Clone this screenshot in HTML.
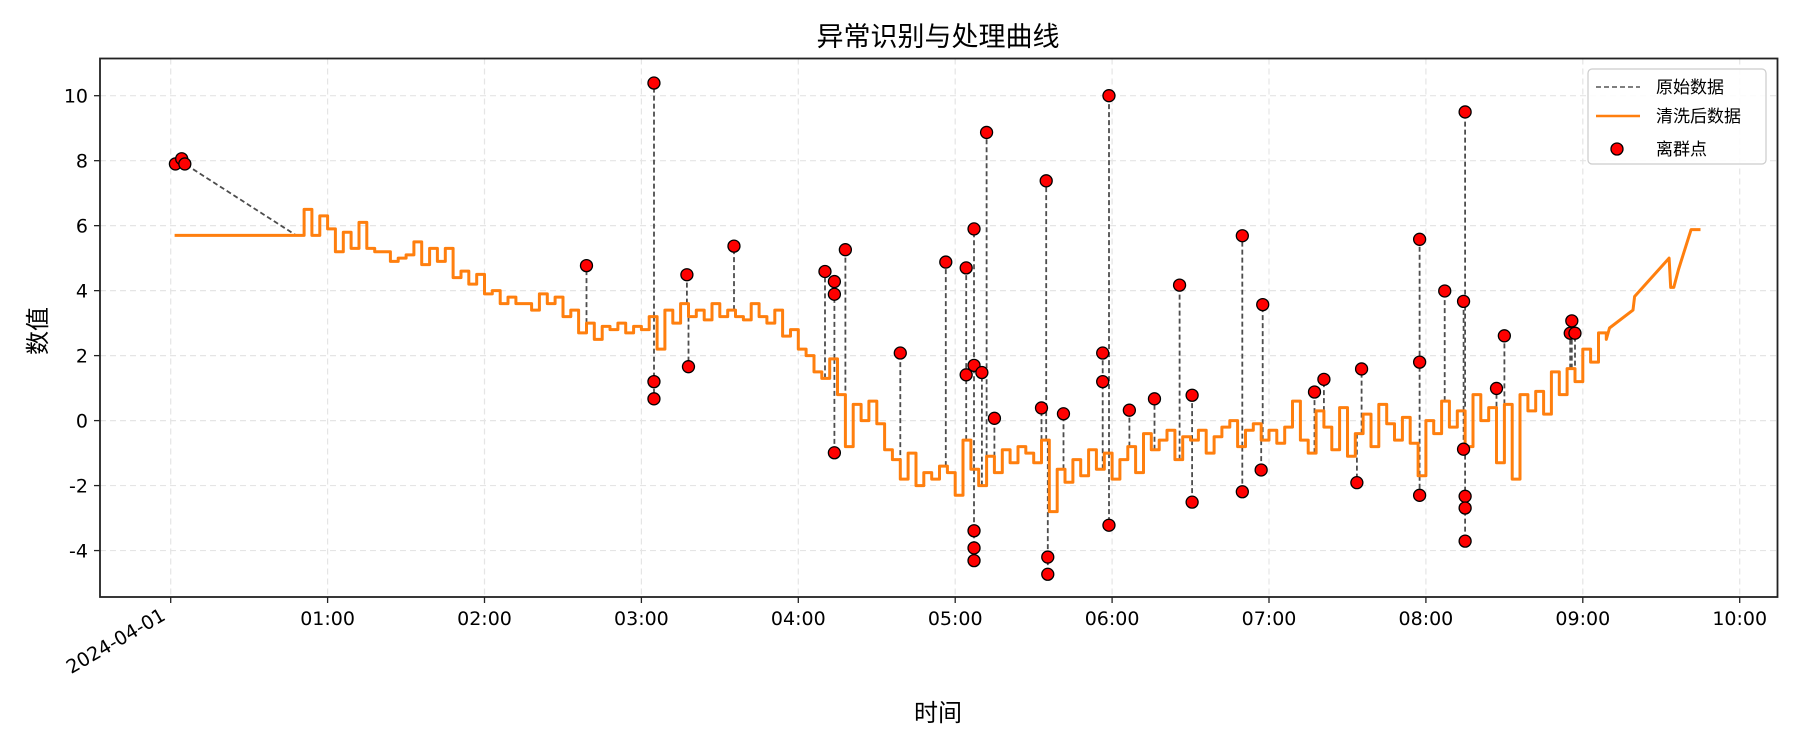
<!DOCTYPE html>
<html><head><meta charset="utf-8"><style>
body{margin:0;background:#fff}
svg{display:block}
text{font-family:"DejaVu Sans","Liberation Sans",sans-serif}
.cjk{font-family:"WenQuanYi Zen Hei","Noto Sans CJK SC",sans-serif}
</style></head><body>
<svg id="chart" width="1800" height="750" xmlns="http://www.w3.org/2000/svg">
<rect width="1800" height="750" fill="#fff"/>
<text class="cjk" x="938" y="46" font-size="27" text-anchor="middle">异常识别与处理曲线</text>
<text class="cjk" x="938" y="721" font-size="24" text-anchor="middle">时间</text>
<text class="cjk" transform="translate(46,331) rotate(-90)" font-size="24" text-anchor="middle">数值</text>
<g id="grid"></g>
<g id="plot"></g>
<rect x="100" y="58.5" width="1677.5" height="538.5" fill="none" stroke="#222" stroke-width="1.8"/>
<g id="ticks"></g>
<g>
<rect x="1588" y="69" width="178" height="95" rx="4" fill="#fff" fill-opacity="0.85" stroke="#ccc" stroke-width="1.2"/>
<line x1="1596" y1="87" x2="1640" y2="87" stroke="#555" stroke-width="1.6" stroke-dasharray="5,3"/>
<text class="cjk" x="1656" y="93" font-size="17">原始数据</text>
<line x1="1596" y1="116" x2="1640" y2="116" stroke="#ff7f0e" stroke-width="2.5"/>
<text class="cjk" x="1656" y="122" font-size="17">清洗后数据</text>
<circle cx="1617" cy="149" r="6" fill="#f00" stroke="#000" stroke-width="1.3"/>
<text class="cjk" x="1656" y="155" font-size="17">离群点</text>
</g>
</svg>
<script>
const yTicks=[-4,-2,0,2,4,6,8,10];
const xTickHours=[0,1,2,3,4,5,6,7,8,9,10];
const xTickLabels=["2024-04-01","01:00","02:00","03:00","04:00","05:00","06:00","07:00","08:00","09:00","10:00"];
const cleanTimes=[0.025,0.80,0.85,0.90,0.95,1.00,1.05,1.10,1.15,1.20,1.25,1.30,1.35,1.40,1.45,1.50,1.55,1.60,1.65,1.70,1.75,1.80,1.85,1.90,1.95,2.00,2.05,2.10,2.15,2.20,2.25,2.30,2.35,2.40,2.45,2.50,2.55,2.60,2.65,2.70,2.75,2.80,2.85,2.90,2.95,3.00,3.05,3.10,3.15,3.20,3.25,3.30,3.35,3.40,3.45,3.50,3.55,3.60,3.65,3.70,3.75,3.80,3.85,3.90,3.95,4.00,4.05,4.10,4.15,4.20,4.25,4.30,4.35,4.40,4.45,4.50,4.55,4.60,4.65,4.70,4.75,4.80,4.85,4.90,4.95,5.00,5.05,5.10,5.15,5.20,5.25,5.30,5.35,5.40,5.45,5.50,5.55,5.60,5.65,5.70,5.75,5.80,5.85,5.90,5.95,6.00,6.05,6.10,6.15,6.20,6.25,6.30,6.35,6.40,6.45,6.50,6.55,6.60,6.65,6.70,6.75,6.80,6.85,6.90,6.95,7.00,7.05,7.10,7.15,7.20,7.25,7.30,7.35,7.40,7.45,7.50,7.55,7.60,7.65,7.70,7.75,7.80,7.85,7.90,7.95,8.00,8.05,8.10,8.15,8.20,8.25,8.30,8.35,8.40,8.45,8.50,8.55,8.60,8.65,8.70,8.75,8.80,8.85,8.90,8.95,9.00,9.05,9.10,9.15];
const cleanValues=[5.7,5.7,6.5,5.7,6.3,5.9,5.2,5.8,5.3,6.1,5.3,5.2,5.2,4.9,5.0,5.1,5.5,4.8,5.3,4.9,5.3,4.4,4.6,4.2,4.5,3.9,4.0,3.6,3.8,3.6,3.6,3.4,3.9,3.6,3.8,3.2,3.4,2.7,3.0,2.5,2.9,2.8,3.0,2.7,2.9,2.8,3.2,2.2,3.4,3.0,3.6,3.2,3.4,3.1,3.6,3.2,3.4,3.2,3.1,3.6,3.2,3.0,3.4,2.6,2.8,2.2,2.0,1.5,1.3,1.9,0.8,-0.8,0.5,0.0,0.6,-0.1,-0.9,-1.2,-1.8,-1.0,-2.0,-1.6,-1.8,-1.4,-1.6,-2.3,-0.6,-1.5,-2.0,-1.1,-1.6,-0.9,-1.3,-0.8,-1.0,-1.3,-0.6,-2.8,-1.5,-1.9,-1.2,-1.7,-0.9,-1.5,-1.0,-1.8,-1.2,-0.8,-1.6,-0.4,-0.9,-0.6,-0.3,-1.2,-0.5,-0.6,-0.3,-1.0,-0.5,-0.2,0.0,-0.8,-0.3,-0.1,-0.6,-0.3,-0.7,-0.2,0.6,-0.6,-1.0,0.3,-0.2,-0.9,0.4,-1.1,-0.4,0.2,-0.8,0.5,-0.1,-0.6,0.1,-0.7,-1.7,0.0,-0.4,0.6,-0.2,0.3,-0.8,0.8,0.0,0.4,-1.3,0.5,-1.8,0.8,0.3,0.9,0.2,1.5,0.8,1.6,1.2,2.2,1.8,2.7,2.5];
const tailTimes=[9.17,9.32,9.33,9.55,9.56,9.58,9.61,9.69,9.75];
const tailValues=[2.85,3.4,3.82,5.0,4.1,4.1,4.65,5.88,5.88];
const outlierTimes=[0.03,0.07,0.09,2.65,3.08,3.08,3.08,3.29,3.30,3.59,4.17,4.23,4.23,4.23,4.30,4.65,4.94,5.07,5.07,5.12,5.12,5.12,5.12,5.12,5.17,5.20,5.25,5.55,5.58,5.59,5.59,5.69,5.94,5.94,5.98,5.98,6.11,6.27,6.43,6.51,6.51,6.83,6.83,6.96,6.95,7.29,7.35,7.56,7.59,7.96,7.96,7.96,8.12,8.24,8.25,8.24,8.25,8.25,8.25,8.45,8.50,8.92,8.93,8.95];
const outlierValues=[7.9,8.06,7.9,4.77,10.39,1.2,0.67,4.49,1.66,5.37,4.59,4.28,3.89,-0.99,5.26,2.08,4.88,4.7,1.41,5.9,1.7,-3.39,-3.92,-4.31,1.48,8.87,0.07,0.39,7.38,-4.2,-4.73,0.21,2.08,1.2,10.0,-3.22,0.32,0.67,4.17,0.78,-2.51,5.69,-2.19,3.57,-1.52,0.88,1.27,-1.91,1.59,5.58,1.8,-2.3,3.99,3.67,9.5,-0.88,-2.33,-2.69,-3.71,0.99,2.61,2.69,3.07,2.69];

const NS='http://www.w3.org/2000/svg';
const X=h=>170.7+h*156.9;
const Y=v=>420.6-v*32.49;
const L=100,R=1777.5,T=58.5,B=597;
function mk(tag,attrs,parent){const e=document.createElementNS(NS,tag);for(const k in attrs)e.setAttribute(k,attrs[k]);parent.appendChild(e);return e;}
const grid=document.getElementById('grid'),ticks=document.getElementById('ticks'),plot=document.getElementById('plot');
yTicks.forEach(v=>{
 const g=mk('line',{x1:L,x2:R,y1:Y(v),y2:Y(v),stroke:'#e5e5e5','stroke-width':1.2,'stroke-dasharray':'6,4'},grid);
 
 
 const t=mk('line',{x1:L-6,x2:L,y1:Y(v),y2:Y(v),stroke:'#222','stroke-width':1.3},ticks);
 
 
 const lb=mk('text',{x:L-12,y:Y(v)+7,'font-size':19,'text-anchor':'end'},ticks);
 lb.textContent=String(v);
 
 
});
xTickHours.forEach((h,i)=>{
 const g=mk('line',{x1:X(h),x2:X(h),y1:T,y2:B,stroke:'#e5e5e5','stroke-width':1.2,'stroke-dasharray':'6,4'},grid);
 
 
 const t=mk('line',{x1:X(h),x2:X(h),y1:B,y2:B+6,stroke:'#222','stroke-width':1.3},ticks);
 
 
 let lb;
 if(i===0){lb=mk('text',{transform:`translate(${X(h)-4},${B+22}) rotate(-30)`,'font-size':19,'text-anchor':'end'},ticks);}
 else{lb=mk('text',{x:X(h),y:B+28,'font-size':19,'text-anchor':'middle'},ticks);}
 lb.textContent=xTickLabels[i];
 
 
});
function cleanAt(t){let v=cleanValues[0];for(let i=0;i<cleanTimes.length;i++){if(cleanTimes[i]<=t)v=cleanValues[i];}return v;}
let rd='M'+X(outlierTimes[0]).toFixed(1)+','+Y(outlierValues[0]).toFixed(1);
rd+='L'+X(outlierTimes[1]).toFixed(1)+','+Y(outlierValues[1]).toFixed(1);
rd+='L'+X(outlierTimes[2]).toFixed(1)+','+Y(outlierValues[2]).toFixed(1);
let started=false;
for(let i=0;i<cleanTimes.length;i++){if(cleanTimes[i]<0.8)continue;
 if(!started){rd+='L'+X(cleanTimes[i]).toFixed(1)+','+Y(cleanValues[i]).toFixed(1);started=true;}
 else rd+='H'+X(cleanTimes[i]).toFixed(1)+'V'+Y(cleanValues[i]).toFixed(1);}
for(let i=3;i<outlierTimes.length;i++){const t=outlierTimes[i];rd+='M'+X(t).toFixed(1)+','+Y(cleanAt(t)).toFixed(1)+'V'+Y(outlierValues[i]).toFixed(1);}
const rawPath=mk('path',{d:rd,fill:'none',stroke:'#4d4d4d','stroke-width':1.8,'stroke-dasharray':'5,3'},plot);


let d='M'+X(cleanTimes[0]).toFixed(1)+','+Y(cleanValues[0]).toFixed(1);
for(let i=1;i<cleanTimes.length;i++){d+='H'+X(cleanTimes[i]).toFixed(1)+'V'+Y(cleanValues[i]).toFixed(1);}
tailTimes.forEach((t,i)=>{d+='L'+X(t).toFixed(1)+','+Y(tailValues[i]).toFixed(1);});
const cl=mk('path',{d:d,fill:'none',stroke:'#ff7f0e','stroke-width':3,'stroke-linejoin':'round'},plot);


outlierTimes.forEach((t,i)=>{
 const c=mk('circle',{cx:X(t),cy:Y(outlierValues[i]),r:6,fill:'#f00',stroke:'#000','stroke-width':1.3},plot);
 
 
});
</script>
</body></html>
